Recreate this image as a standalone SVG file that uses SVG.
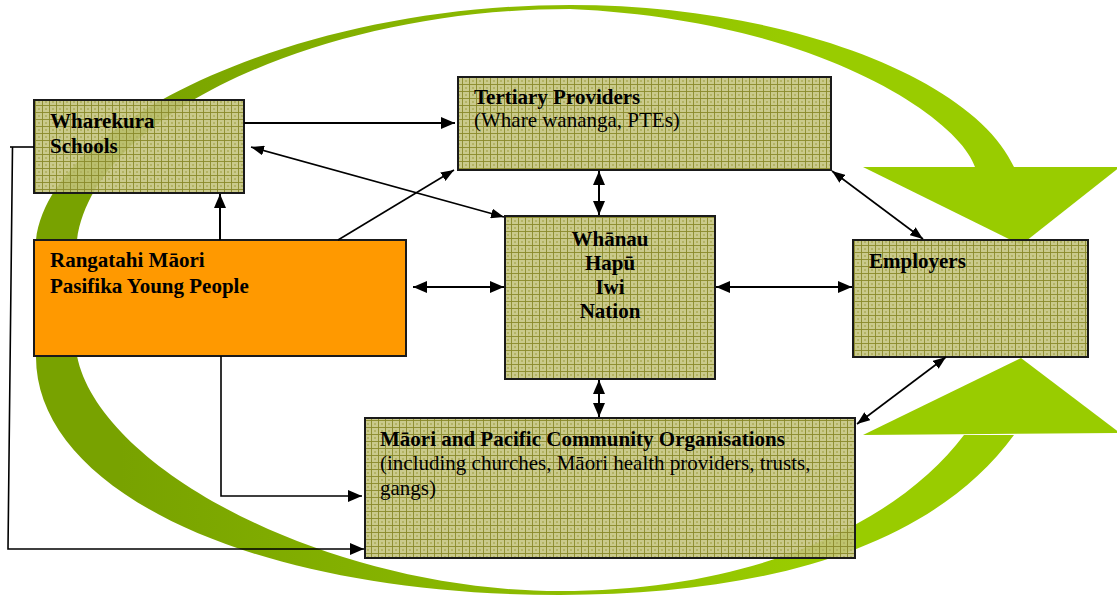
<svg xmlns="http://www.w3.org/2000/svg" width="1117" height="596" viewBox="0 0 1117 596">
<defs>
  <linearGradient id="g" gradientUnits="userSpaceOnUse" x1="120" y1="0" x2="800" y2="0">
    <stop offset="0" stop-color="#78a200"/>
    <stop offset="1" stop-color="#99cc00"/>
  </linearGradient>
  <pattern id="grid" width="7" height="7" patternUnits="userSpaceOnUse">
    <rect width="7" height="7" fill="#c2c27c" fill-opacity="0.88"/>
    <rect x="3" y="3" width="2" height="2" fill="#b0b060" fill-opacity="0.88"/>
    <rect width="7" height="1" fill="#8a8a2a" fill-opacity="0.9"/>
    <rect width="1" height="7" fill="#8a8a2a" fill-opacity="0.9"/>
  </pattern>
  <marker id="ah" viewBox="0 0 14 12" markerWidth="14" markerHeight="12" refX="14" refY="6" orient="auto-start-reverse" markerUnits="userSpaceOnUse">
    <path d="M0,0 L14,6 L0,12 z" fill="#000"/>
  </marker>
  <marker id="as" viewBox="0 0 13 10" markerWidth="13" markerHeight="10" refX="13" refY="5" orient="auto-start-reverse" markerUnits="userSpaceOnUse">
    <path d="M0,0 L13,5 L0,10 z" fill="#000"/>
  </marker>
  <style>
    .box { fill: url(#grid); stroke: #1a1a1a; stroke-width: 2; }
    .t { font-family: "Liberation Serif", "Times New Roman", serif; font-size: 21px; fill: #000; }
    .b { font-weight: bold; }
    .c { fill: none; stroke: #000; stroke-width: 2; }
    .cs { fill: none; stroke: #000; stroke-width: 1.6; }
  </style>
</defs>

<g id="green-cycle">
  <path d="M36,262 L36,240 C50,120 300,5 570,5 C790,5 975,80 1014,167 L975,167 C960,120 820,20 570,9 C330,9 95,110 77,240 L77,262 Z" fill="url(#g)"/>
  <polygon points="863,167 1120,167 1021,245" fill="#99cc00"/>
  <path d="M36,336 L36,356 C35,490 250,595 560,595 C760,595 930,550 1014,435 L964,435 C900,520 760,591 560,591 C330,591 100,470 77,356 L77,336 Z" fill="url(#g)"/>
  <polygon points="863,435 1120,433 1021,358" fill="#99cc00"/>
</g>

<g id="wharekura">
  <rect class="box" x="34" y="100" width="210" height="93"/>
  <text class="t b" x="50" y="128">Wharekura</text>
  <text class="t b" x="50" y="153">Schools</text>
</g>

<g id="tertiary">
  <rect class="box" x="458" y="77" width="373" height="93"/>
  <text class="t b" x="474" y="104">Tertiary Providers</text>
  <text class="t" x="474" y="127">(Whare wananga, PTEs)</text>
</g>

<g id="whanau">
  <rect class="box" x="505" y="216" width="210" height="163"/>
  <text class="t b" x="610" y="246" text-anchor="middle">Whānau</text>
  <text class="t b" x="610" y="270" text-anchor="middle">Hapū</text>
  <text class="t b" x="610" y="294" text-anchor="middle">Iwi</text>
  <text class="t b" x="610" y="318" text-anchor="middle">Nation</text>
</g>

<g id="employers">
  <rect class="box" x="853" y="240" width="235" height="117"/>
  <text class="t b" x="869" y="268">Employers</text>
</g>

<g id="rangatahi">
  <rect x="34" y="240" width="372" height="116" fill="#ff9900" stroke="#1a1a1a" stroke-width="2"/>
  <text class="t b" x="50" y="267">Rangatahi Māori</text>
  <text class="t b" x="50" y="293">Pasifika Young People</text>
</g>

<g id="community">
  <rect class="box" x="365" y="418" width="490" height="140"/>
  <text class="t b" x="380" y="446">Māori and Pacific Community Organisations</text>
  <text class="t" x="380" y="470">(including churches, Māori health providers, trusts,</text>
  <text class="t" x="380" y="495">gangs)</text>
</g>

<g id="connectors">
  <path class="c" d="M244,123 L455,123" marker-end="url(#ah)"/>
  <path class="c" d="M599,171 L599,215" marker-start="url(#ah)" marker-end="url(#ah)"/>
  <path class="cs" d="M251,147 L504,217" marker-start="url(#as)" marker-end="url(#as)"/>
  <path class="cs" d="M338,240 L454,170" marker-end="url(#as)"/>
  <path class="c" d="M220,240 L220,194" marker-end="url(#ah)"/>
  <path class="c" d="M413,287 L504,287" marker-start="url(#ah)" marker-end="url(#ah)"/>
  <path class="c" d="M716,287 L852,287" marker-start="url(#ah)" marker-end="url(#ah)"/>
  <path class="cs" d="M832,171 L923,239" marker-start="url(#as)" marker-end="url(#as)"/>
  <path class="c" d="M599,380 L599,417" marker-start="url(#ah)" marker-end="url(#ah)"/>
  <path class="cs" d="M946,357 L857,424" marker-start="url(#as)" marker-end="url(#as)"/>
  <path class="cs" d="M221,356 L221,496 L362,496" marker-end="url(#ah)"/>
  <path class="cs" d="M10,147 L34,147"/>
  <path class="cs" d="M12.5,147 L8,549 L364,549" marker-end="url(#ah)"/>
</g>
</svg>
